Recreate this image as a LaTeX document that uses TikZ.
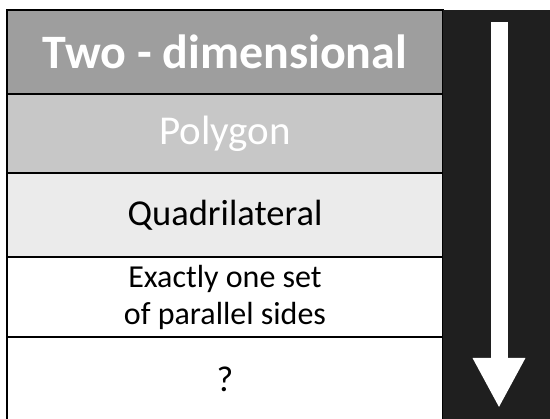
\documentclass[tikz,border=0pt]{standalone}
\usepackage{fontspec}
\setmainfont{Carlito}
\usetikzlibrary{positioning, arrows.meta}

\begin{document}
\begin{tikzpicture}[
    x=1pt, y=-1pt,
    node distance=0pt,
    level/.style={rectangle, draw, line width=1.2pt, outer sep=0pt, inner sep=0pt, minimum width=436pt, text centered, align=center},
    band/.style={rectangle, fill=black!88, outer sep=0pt, inner sep=0pt, minimum width=107pt, minimum height=409pt},
    flow/.style={white, line width=17pt, -{Triangle[width=49pt, length=50pt]}}
]
    \useasboundingbox (0,0) rectangle (550,419);

    % Levels
    \node[level, fill=black!38, minimum height=84pt, text=white, font=\fontsize{48}{52}\selectfont\bfseries] (twod) at (225,52) {Two - dimensional};
    \node[level, fill=black!22, minimum height=79pt, text=white, font=\fontsize{41}{44}\selectfont, below=of twod] (polygon) {Polygon};
    \node[level, fill=black!8, minimum height=84pt, font=\fontsize{36.5}{40}\selectfont, below=of polygon] (quad) {Quadrilateral};
    \node[level, fill=white, minimum height=80pt, font=\fontsize{32}{37}\selectfont, below=of quad] (oneset) {Exactly one set\\of parallel sides};
    \node[level, fill=white, minimum height=84pt, font=\fontsize{36}{40}\selectfont, below=of oneset] (unknown) {?};

    % Dark band with the arrow
    \node[band, anchor=north west] (column) at (twod.north east) {};
    \coordinate (flowtop) at (499,22);
    \coordinate (flowtip) at (499,408);
    \draw[flow] (flowtop) -- (flowtip);
\end{tikzpicture}
\end{document}
